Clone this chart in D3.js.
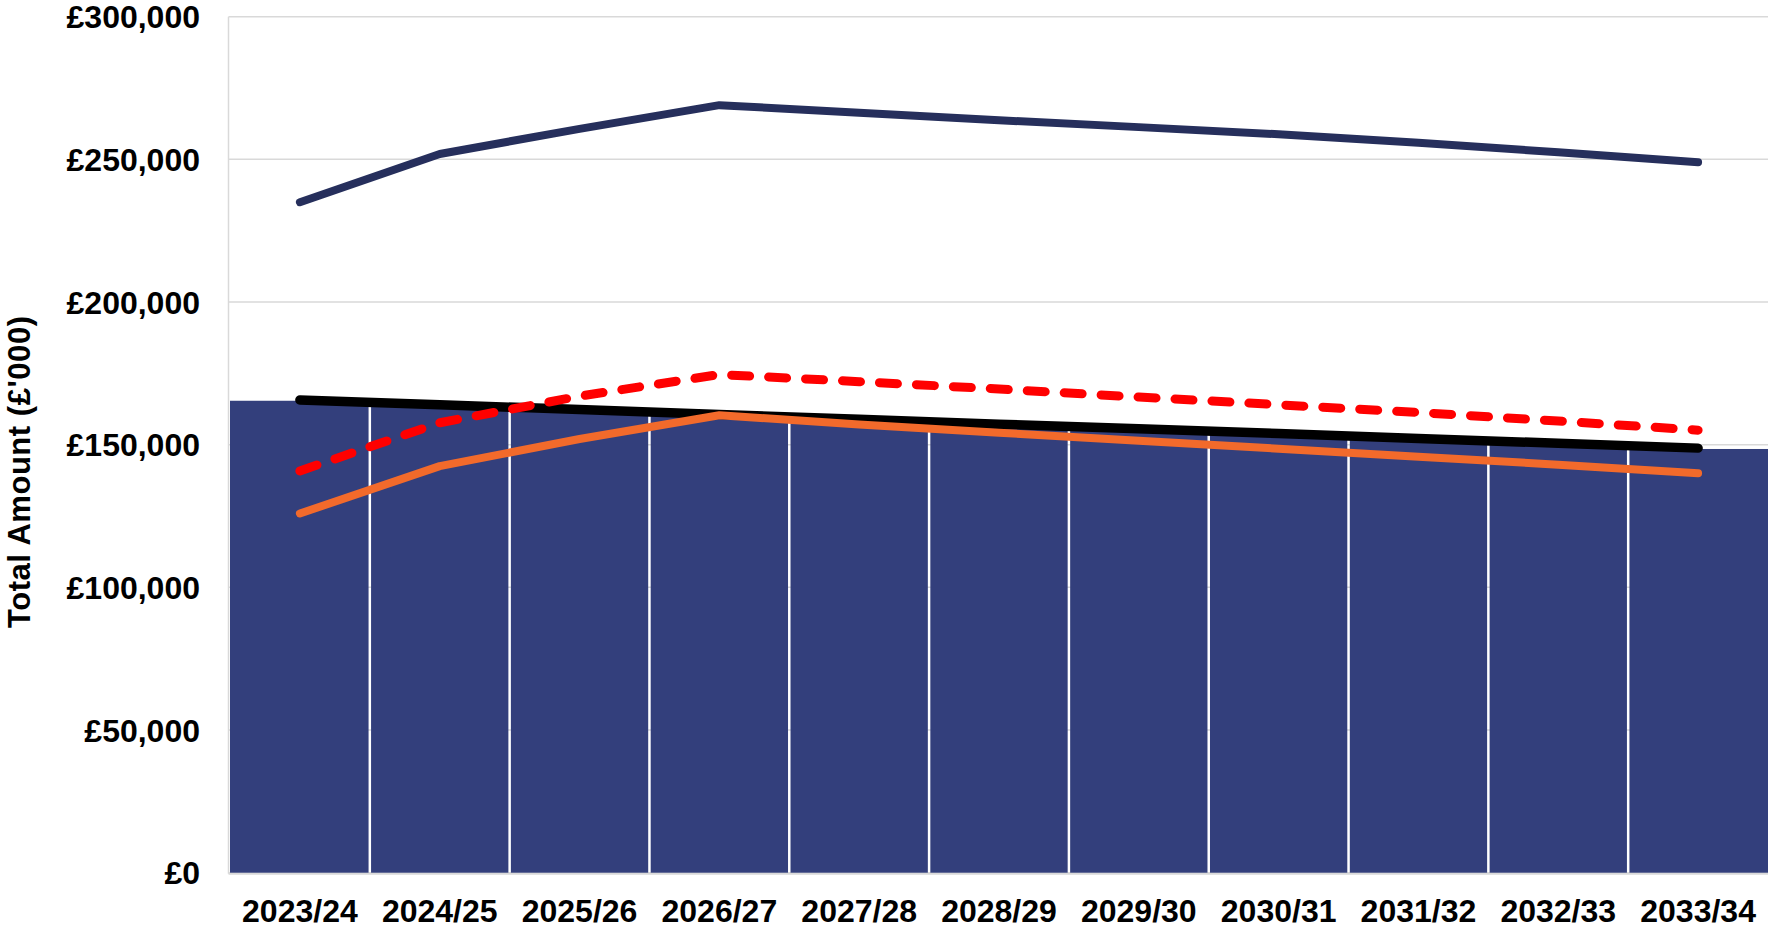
<!DOCTYPE html>
<html>
<head>
<meta charset="utf-8">
<script src="https://cdn.jsdelivr.net/npm/d3@7"></script>
<style>
  html, body { margin: 0; padding: 0; background: #ffffff; }
  svg { display: block; }
  text { font-family: "Liberation Sans", Arial, sans-serif; font-weight: bold; fill: #000; }
</style>
</head>
<body>
<svg id="chart" width="1768" height="934"></svg>
<script>
// ---- Data (values in £'000) ----
const categories = ["2023/24","2024/25","2025/26","2026/27","2027/28","2028/29","2029/30","2030/31","2031/32","2032/33","2033/34"];
const barValues    = [165400,163700,162000,160300,158600,157000,155300,153600,151900,150200,148500];
const navyValues   = [235000,251900,260700,269000,266300,263700,261300,258800,255800,252500,249000];
const blackValues  = [165700,164000,162300,160600,158900,157200,155600,153900,152200,150500,148800];
const orangeValues = [125900,142500,152000,160300,157100,154200,151400,148600,145800,143000,140000];
const redValues    = [140800,157700,167000,174600,172100,169500,166700,164000,161300,158300,155100];
const yTicks = [0,50000,100000,150000,200000,250000,300000];
const yTitle = "Total Amount (£'000)";

// ---- Layout ----
const svg = d3.select("#chart");
const plot = { left: 230, right: 1768, top: 16.7, bottom: 872.7 };

const x = d3.scaleBand().domain(categories).range([plot.left, plot.right]).padding(0);
const y = d3.scaleLinear().domain([0, 300000]).range([plot.bottom, plot.top]);

// gridlines
svg.append("g")
  .selectAll("line")
  .data(yTicks)
  .join("line")
  .attr("x1", plot.left - 1.5)
  .attr("x2", plot.right)
  .attr("y1", d => y(d))
  .attr("y2", d => y(d))
  .attr("stroke", "#d9d9d9")
  .attr("stroke-width", 1.5);

// left axis line
svg.append("line")
  .attr("x1", plot.left - 1.5).attr("x2", plot.left - 1.5)
  .attr("y1", y(300000)).attr("y2", y(0) + 1)
  .attr("stroke", "#d9d9d9").attr("stroke-width", 1.5);

// bottom axis line
svg.append("line")
  .attr("x1", plot.left - 1.5).attr("x2", plot.right)
  .attr("y1", y(0) + 1).attr("y2", y(0) + 1)
  .attr("stroke", "#d9d9d9").attr("stroke-width", 2);

// bars
const gap = 2.5;
svg.append("g")
  .selectAll("rect")
  .data(categories)
  .join("rect")
  .attr("x", (d, i) => x(d) + (i === 0 ? 0 : gap / 2))
  .attr("width", (d, i) => x.bandwidth() - (i === 0 ? gap / 2 : (i === categories.length - 1 ? gap / 2 : gap)))
  .attr("y", (d, i) => y(barValues[i]))
  .attr("height", (d, i) => y(0) - y(barValues[i]))
  .attr("fill", "#333f7c");

// y tick labels
svg.append("g")
  .selectAll("text")
  .data(yTicks)
  .join("text")
  .attr("x", 200)
  .attr("y", d => y(d))
  .attr("dy", "0.36em")
  .attr("text-anchor", "end")
  .attr("font-size", 32)
  .text(d => "£" + d3.format(",")(d));

// x labels
svg.append("g")
  .selectAll("text")
  .data(categories)
  .join("text")
  .attr("x", d => x(d) + x.bandwidth() / 2)
  .attr("y", 922)
  .attr("text-anchor", "middle")
  .attr("font-size", 32)
  .text(d => d);

// y title
svg.append("text")
  .attr("transform", "translate(29.5,472) rotate(-90)")
  .attr("text-anchor", "middle")
  .attr("font-size", 31)
  .attr("textLength", 312)
  .attr("lengthAdjust", "spacing")
  .text(yTitle);

// lines
const cx = d => x(d) + x.bandwidth() / 2;
const lineGen = vals => d3.line().x(d => cx(d)).y((d, i) => y(vals[i]))(categories);

function drawLine(vals, color, width, dash) {
  const p = svg.append("path")
    .attr("d", lineGen(vals))
    .attr("fill", "none")
    .attr("stroke", color)
    .attr("stroke-width", width)
    .attr("stroke-linecap", "round")
    .attr("stroke-linejoin", "round");
  if (dash) p.attr("stroke-dasharray", dash);
}

drawLine(navyValues, "#262f5c", 8);
drawLine(blackValues, "#000000", 9.5);
drawLine(orangeValues, "#f26a2b", 8);
drawLine(redValues, "#ff0000", 9, "18,19");
</script>
</body>
</html>
